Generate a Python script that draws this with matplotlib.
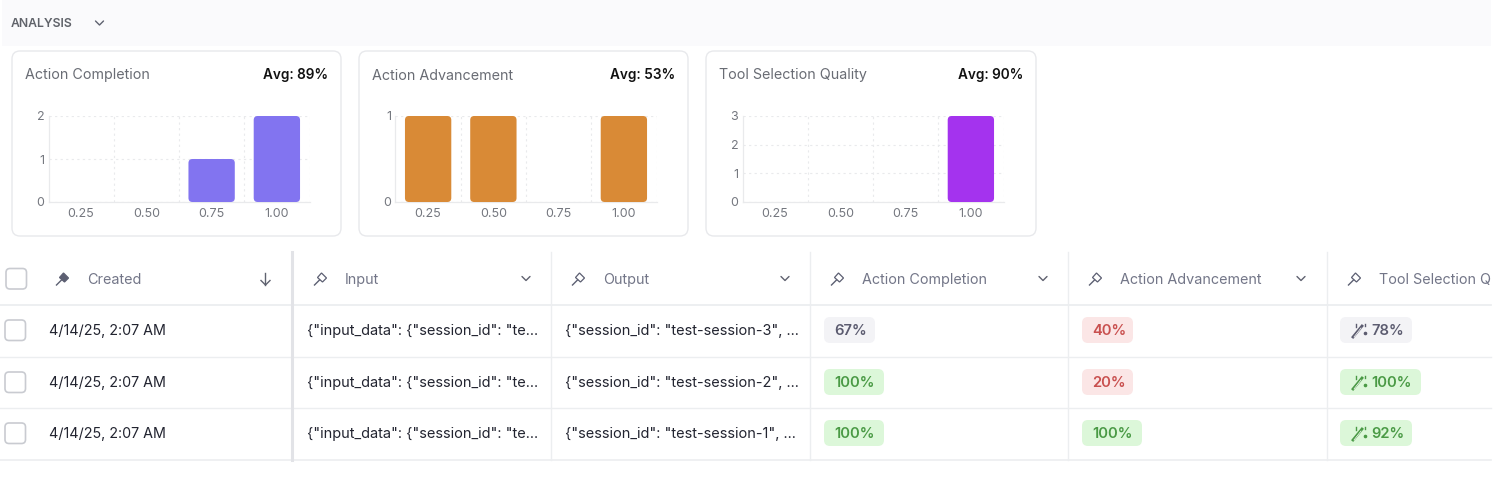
import matplotlib
matplotlib.use("Agg")
import matplotlib.pyplot as plt
from matplotlib.patches import FancyBboxPatch, Rectangle, Polygon
from matplotlib.transforms import IdentityTransform

plt.rcParams['font.family'] = ['Inter', 'DejaVu Sans']

W = 1496
H = 486

# chart data
bins = ['0.25', '0.50', '0.75', '1.00']
chart_titles = ['Action Completion', 'Action Advancement', 'Tool Selection Quality']
chart_avgs = ['Avg: 89%', 'Avg: 53%', 'Avg: 90%']
completion_counts = [0, 0, 1, 2]
advancement_counts = [1, 1, 0, 1]
tool_counts = [0, 0, 0, 3]

# table data (last header is cut by the table edge in the reference)
columns = ['Created', 'Input', 'Output', 'Action Completion', 'Action Advancement', 'Tool Selection Q']
created = ['4/14/25, 2:07 AM', '4/14/25, 2:07 AM', '4/14/25, 2:07 AM']
inputs = ['{"input_data": {"session_id": "te...'] * 3
outputs = ['{"session_id": "test-session-3", ...',
           '{"session_id": "test-session-2", ...',
           '{"session_id": "test-session-1", ...']
completion_scores = [67, 100, 100]
advancement_scores = [40, 20, 100]
tool_scores = [78, 100, 92]

fig = plt.figure(figsize=(W / 100, H / 100), dpi=100, facecolor='white')
bg = fig.add_axes([0, 0, 1, 1])
bg.set_xlim(0, W)
bg.set_ylim(H, 0)
bg.axis('off')


def box(x0, y0, x1, y1, r, fc, ec='none', lw=1.0, z=1):
    p = FancyBboxPatch((x0 + r, y0 + r), x1 - x0 - 2 * r, y1 - y0 - 2 * r,
                       boxstyle='round,pad=%f,rounding_size=%f' % (r, r),
                       fc=fc, ec=ec, lw=lw, zorder=z)
    bg.add_patch(p)


def chevron(x, y, s=4.0, col='#5f6270'):
    bg.plot([x - s, x, x + s], [y - s * 0.5, y + s * 0.5, y - s * 0.5], color=col, lw=1.0,
            solid_capstyle='round', zorder=3)


def pin(x, y, filled=False, col='#5c5f72'):
    # small slanted pushpin
    head = [(x - 2.5, y - 1.5), (x + 1.5, y - 6), (x + 6.5, y - 1), (x + 2.5, y + 3)]
    bg.add_patch(Polygon(head, closed=True, fc=col if filled else 'none', ec=col, lw=0.9, zorder=3))
    bg.plot([x - 0.5, x - 5.5], [y + 1, y + 6], color=col, lw=1.0, zorder=3)


def wand(x, y, col):
    bg.plot([x - 5, x + 4], [y + 7, y - 4], color=col, lw=2.0, zorder=6)
    bg.plot([x - 4, x + 3], [y + 7, y - 2], color='white', lw=0.5, zorder=7)
    bg.plot([x + 7, x + 7], [y - 6, y - 4], color=col, lw=1.0, zorder=6)
    bg.plot([x - 2, x - 2], [y - 6, y - 3], color=col, lw=1.0, zorder=6)
    bg.plot([x + 7], [y + 3], marker='o', ms=1.6, color=col, zorder=6)


# top band
bg.add_patch(Rectangle((2, 0), 1489, 46, fc='#fafafc', ec='none', zorder=0))
bg.text(11, 27, 'ANALYSIS', fontsize=8.8, fontweight='semibold', color='#5f6269', va='baseline', ha='left')
chevron(99.5, 23)

# cards + bar charts
card_x = [(12, 341), (359, 688), (706, 1036)]
axes_x = [48.5, 395.5, 742.5]
series = [completion_counts, advancement_counts, tool_counts]
colors = ['#8274f0', '#d98a36', '#a433ee']
for i in range(3):
    x0, x1 = card_x[i]
    box(x0, 51, x1, 236, 8, 'white', '#e8e9ec', 1.0)
    bg.text(x0 + 13, 79.5, chart_titles[i], fontsize=10.3, color='#696c74', va='baseline', ha='left')
    bg.text(x1 - 13, 79.5, chart_avgs[i], fontsize=9.8, fontweight='semibold', color='#111111', va='baseline', ha='right')

    ax = fig.add_axes([axes_x[i] / W, 1 - 202 / H, 261 / W, 86 / H], facecolor='none')
    vals = series[i]
    bars = ax.bar(range(4), vals, width=0.71, color=colors[i], zorder=3)
    ax.set_xlim(-0.5, 3.5)
    ax.set_ylim(0, max(vals))
    ax.set_xticks(range(4))
    ax.set_xticklabels(bins)
    ax.set_yticks(range(max(vals) + 1))
    ax.set_xticks([0.5, 1.5, 2.5, 3.5], minor=True)
    ax.tick_params(axis='both', which='both', length=0, labelsize=9.0, labelcolor='#74777f')
    ax.tick_params(axis='x', pad=4)
    ax.tick_params(axis='y', pad=3)
    ax.grid(True, which='major', axis='y', color='#e9eaec', ls=(0, (2, 3)), lw=0.8, zorder=0)
    ax.grid(True, which='minor', axis='x', color='#e9eaec', ls=(0, (2, 3)), lw=0.8, zorder=0)
    for s in ['top', 'right']:
        ax.spines[s].set_visible(False)
    for s in ['left', 'bottom']:
        ax.spines[s].set_color('#e9eaec')
        ax.spines[s].set_linewidth(0.9)

    # swap each bar for a rounded one at the same place on screen
    for b in bars:
        if b.get_height() == 0:
            continue
        (bx0, by0), (bx1, by1) = ax.transData.transform([(b.get_x(), 0), (b.get_x() + b.get_width(), b.get_height())])
        b.set_visible(False)
        r = 4
        ax.add_patch(FancyBboxPatch((bx0 + r, by0 + r), bx1 - bx0 - 2 * r, by1 - by0 - 2 * r,
                                    boxstyle='round,pad=%f,rounding_size=%f' % (r, r),
                                    fc=colors[i], ec='none', transform=IdentityTransform(),
                                    zorder=3, clip_on=False))

# table lines
line_col = '#eceef0'
for y, lw in [(305, 1.3), (356.5, 1.0), (408, 1.0), (459.5, 1.2)]:
    bg.plot([0, 1491], [y, y], color=line_col, lw=lw, zorder=1)
col_lines = [292.5, 551.5, 810.5, 1068.5, 1327.5]
for k, x in enumerate(col_lines):
    bg.plot([x, x], [252, 460], color='#e2e3e7' if k == 0 else line_col, lw=2.2 if k == 0 else 1.0, zorder=1)

# header row
head_y = 279
head_text_x = [87, 345, 603, 862, 1120, 1379]
head_pin_x = [62, 320, 578, 837, 1095, 1354]
for k, name in enumerate(columns):
    bg.text(head_text_x[k], head_y + 5, name, fontsize=10.35, color='#737688', va='baseline', ha='left')
    pin(head_pin_x[k], head_y, filled=(k == 0))
for x in [526, 785, 1043, 1301]:
    chevron(x, head_y - 0.5)
# sort arrow
bg.plot([265.5, 265.5], [273, 285], color='#5f6270', lw=1.0, zorder=3)
bg.plot([261, 265.5, 270], [280.5, 285, 280.5], color='#5f6270', lw=1.0, zorder=3)

box(6, 268.5, 26.5, 289, 4, 'white', '#c9cbd1', 1.2)

# table rows
row_y = [330, 382, 433]
pill_col = {'good': ('#dcf7d9', '#4a9a45'), 'bad': ('#fbe6e6', '#c9504f'), 'mid': ('#f3f3f6', '#5c5c70')}


def score_kind(v):
    if v >= 90:
        return 'good'
    if v < 50:
        return 'bad'
    return 'mid'


def pill(x, y, v, wand_icon=False):
    fc, tc = pill_col[score_kind(v)]
    label = '%d%%' % v
    w = (51 if v < 100 else 60)
    tx = x + 10
    if wand_icon:
        w += 21
        wand(x + 18, y, tc)
        tx = x + 31
    box(x, y - 13, x + w, y + 13, 6, fc, z=4)
    bg.text(tx, y + 5, label, fontsize=10.6, fontweight='semibold', color=tc, va='baseline', ha='left', zorder=6)


for r, y in enumerate(row_y):
    box(5, y - 10, 25.5, y + 10.5, 4, 'white', '#c9cbd1', 1.2)
    bg.text(49, y + 5, created[r], fontsize=10.3, color='#222430', va='baseline', ha='left')
    bg.text(307, y + 5, inputs[r], fontsize=10.5, color='#222430', va='baseline', ha='left')
    bg.text(565, y + 5, outputs[r], fontsize=10.45, color='#222430', va='baseline', ha='left')
    pill(824, y, completion_scores[r])
    pill(1082, y, advancement_scores[r])
    pill(1340, y, tool_scores[r], wand_icon=True)

fig.savefig('out.png', dpi=100)
